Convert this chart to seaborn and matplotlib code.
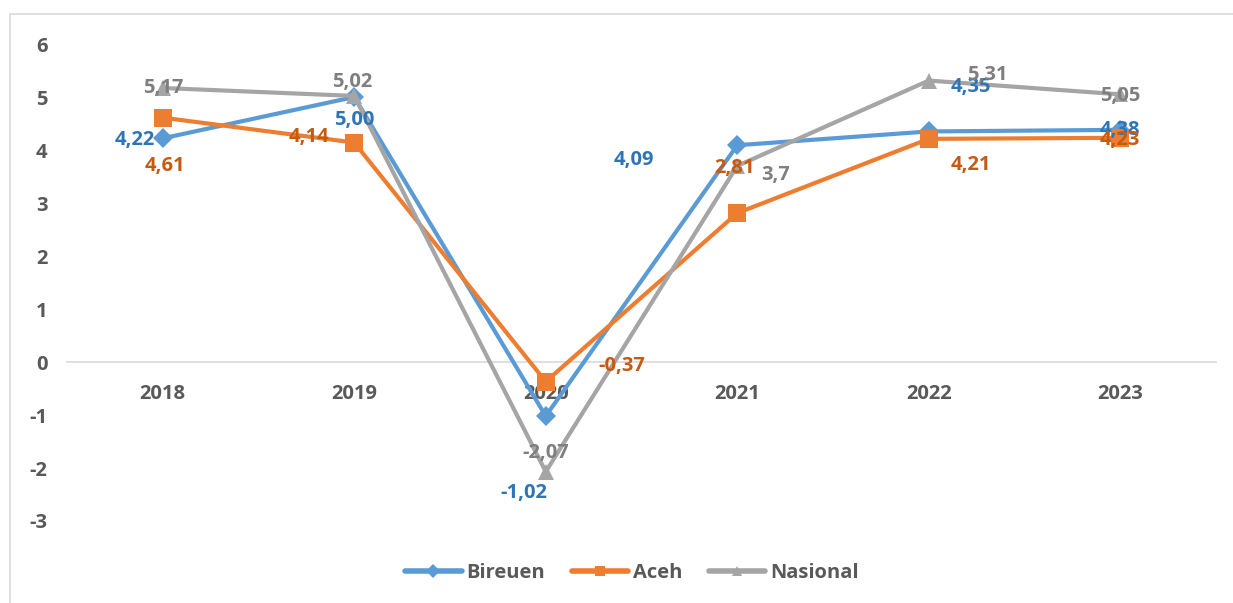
import pandas as pd
import numpy as np
import matplotlib.pyplot as plt
import seaborn as sns
from matplotlib.patches import Rectangle

# data
tahun = ["2018", "2019", "2020", "2021", "2022", "2023"]
bireuen = [4.22, 5.00, -1.02, 4.09, 4.35, 4.38]
aceh = [4.61, 4.14, -0.37, 2.81, 4.21, 4.23]
nasional = [5.17, 5.02, -2.07, 3.70, 5.31, 5.05]

label_bireuen = ["4,22", "5,00", "-1,02", "4,09", "4,35", "4,38"]
label_aceh = ["4,61", "4,14", "-0,37", "2,81", "4,21", "4,23"]
label_nasional = ["5,17", "5,02", "-2,07", "3,7", "5,31", "5,05"]

wilayah = ["Bireuen", "Aceh", "Nasional"]

df = pd.DataFrame({
    "Tahun": tahun * 3,
    "Nilai": bireuen + aceh + nasional,
    "Wilayah": [w for w in wilayah for _ in tahun],
})

line_colors = {"Bireuen": "#5B9BD5", "Aceh": "#ED7D31", "Nasional": "#A5A5A5"}
text_colors = {"Bireuen": "#2E75B6", "Aceh": "#C55A11", "Nasional": "#7F7F7F"}
markers = {"Bireuen": "D", "Aceh": "s", "Nasional": "^"}
msizes = {"Bireuen": 10, "Aceh": 13.5, "Nasional": 12}

# label offsets in pixels (dx, dy), where the chart placed them
offsets = {
    "Bireuen": [(-28, -2), (0, -23), (-22, -77), (-103, -15), (42, 44), (0, 0)],
    "Aceh": [(2, -48), (-45, 6), (76, 16), (-3, 45), (42, -26), (0, -2)],
    "Nasional": [(0, 0), (-2, 14), (0, 19), (38, -9), (59, 6), (0, -2)],
}
labels = {"Bireuen": label_bireuen, "Aceh": label_aceh, "Nasional": label_nasional}
values = {"Bireuen": bireuen, "Aceh": aceh, "Nasional": nasional}

sns.set_style("white")
plt.rcParams["font.family"] = ["Open Sans", "DejaVu Sans"]
plt.rcParams["font.weight"] = "bold"
plt.rcParams["axes.unicode_minus"] = False

FS = 14.5

fig = plt.figure(figsize=(12.33, 6.03), dpi=100)
ax = fig.add_axes([67 / 1233, 82 / 603, 1149 / 1233, 477 / 603])

sns.lineplot(data=df, x="Tahun", y="Nilai", hue="Wilayah", style="Wilayah",
             hue_order=wilayah, style_order=wilayah,
             palette=line_colors, markers=markers, dashes=False,
             linewidth=3, markeredgewidth=0, sort=False, ax=ax)

for line, w in zip(ax.lines, wilayah):
    line.set_markersize(msizes[w])

for w in wilayah:
    for i, (v, t) in enumerate(zip(values[w], labels[w])):
        dx, dy = offsets[w][i]
        ax.annotate(t, (i, v), xytext=(dx, dy), textcoords="offset pixels",
                    ha="center", va="center", fontsize=FS,
                    fontweight="bold", color=text_colors[w])

ax.set_xlim(-0.5, 5.5)
ax.set_ylim(-3, 6)
ax.set_yticks(range(-3, 7))
ax.set_xlabel("")
ax.set_ylabel("")

for s in ["top", "right", "left"]:
    ax.spines[s].set_visible(False)
ax.spines["bottom"].set_position(("data", 0))
ax.spines["bottom"].set_color("#D9D9D9")
ax.spines["bottom"].set_linewidth(1.2)
ax.spines["bottom"].set_zorder(0)

ax.tick_params(axis="y", length=0, pad=14, labelsize=FS, labelcolor="#595959")
ax.tick_params(axis="x", length=0, pad=16, labelsize=FS, labelcolor="#595959")
for lab in ax.get_xticklabels() + ax.get_yticklabels():
    lab.set_fontweight("bold")

handles, names = ax.get_legend_handles_labels()
ax.get_legend().remove()
for h in handles:
    h.set_linewidth(4)
    h.set_markersize(7)
fig.legend(handles, names, loc="center", bbox_to_anchor=(632 / 1233, 1 - 573 / 603),
           ncol=3, frameon=False, handlelength=2.8, handletextpad=0.25,
           columnspacing=1.3, prop={"size": FS, "weight": "bold"},
           labelcolor="#595959")

# outer chart border (only top and left edges fall inside the picture)
fig.patches.append(Rectangle((10 / 1233, -0.05), 1.1, 1 - 14 / 603 + 0.05,
                             transform=fig.transFigure, fill=False,
                             edgecolor="#D9D9D9", linewidth=1.2))

fig.savefig("out.png", dpi=100)
